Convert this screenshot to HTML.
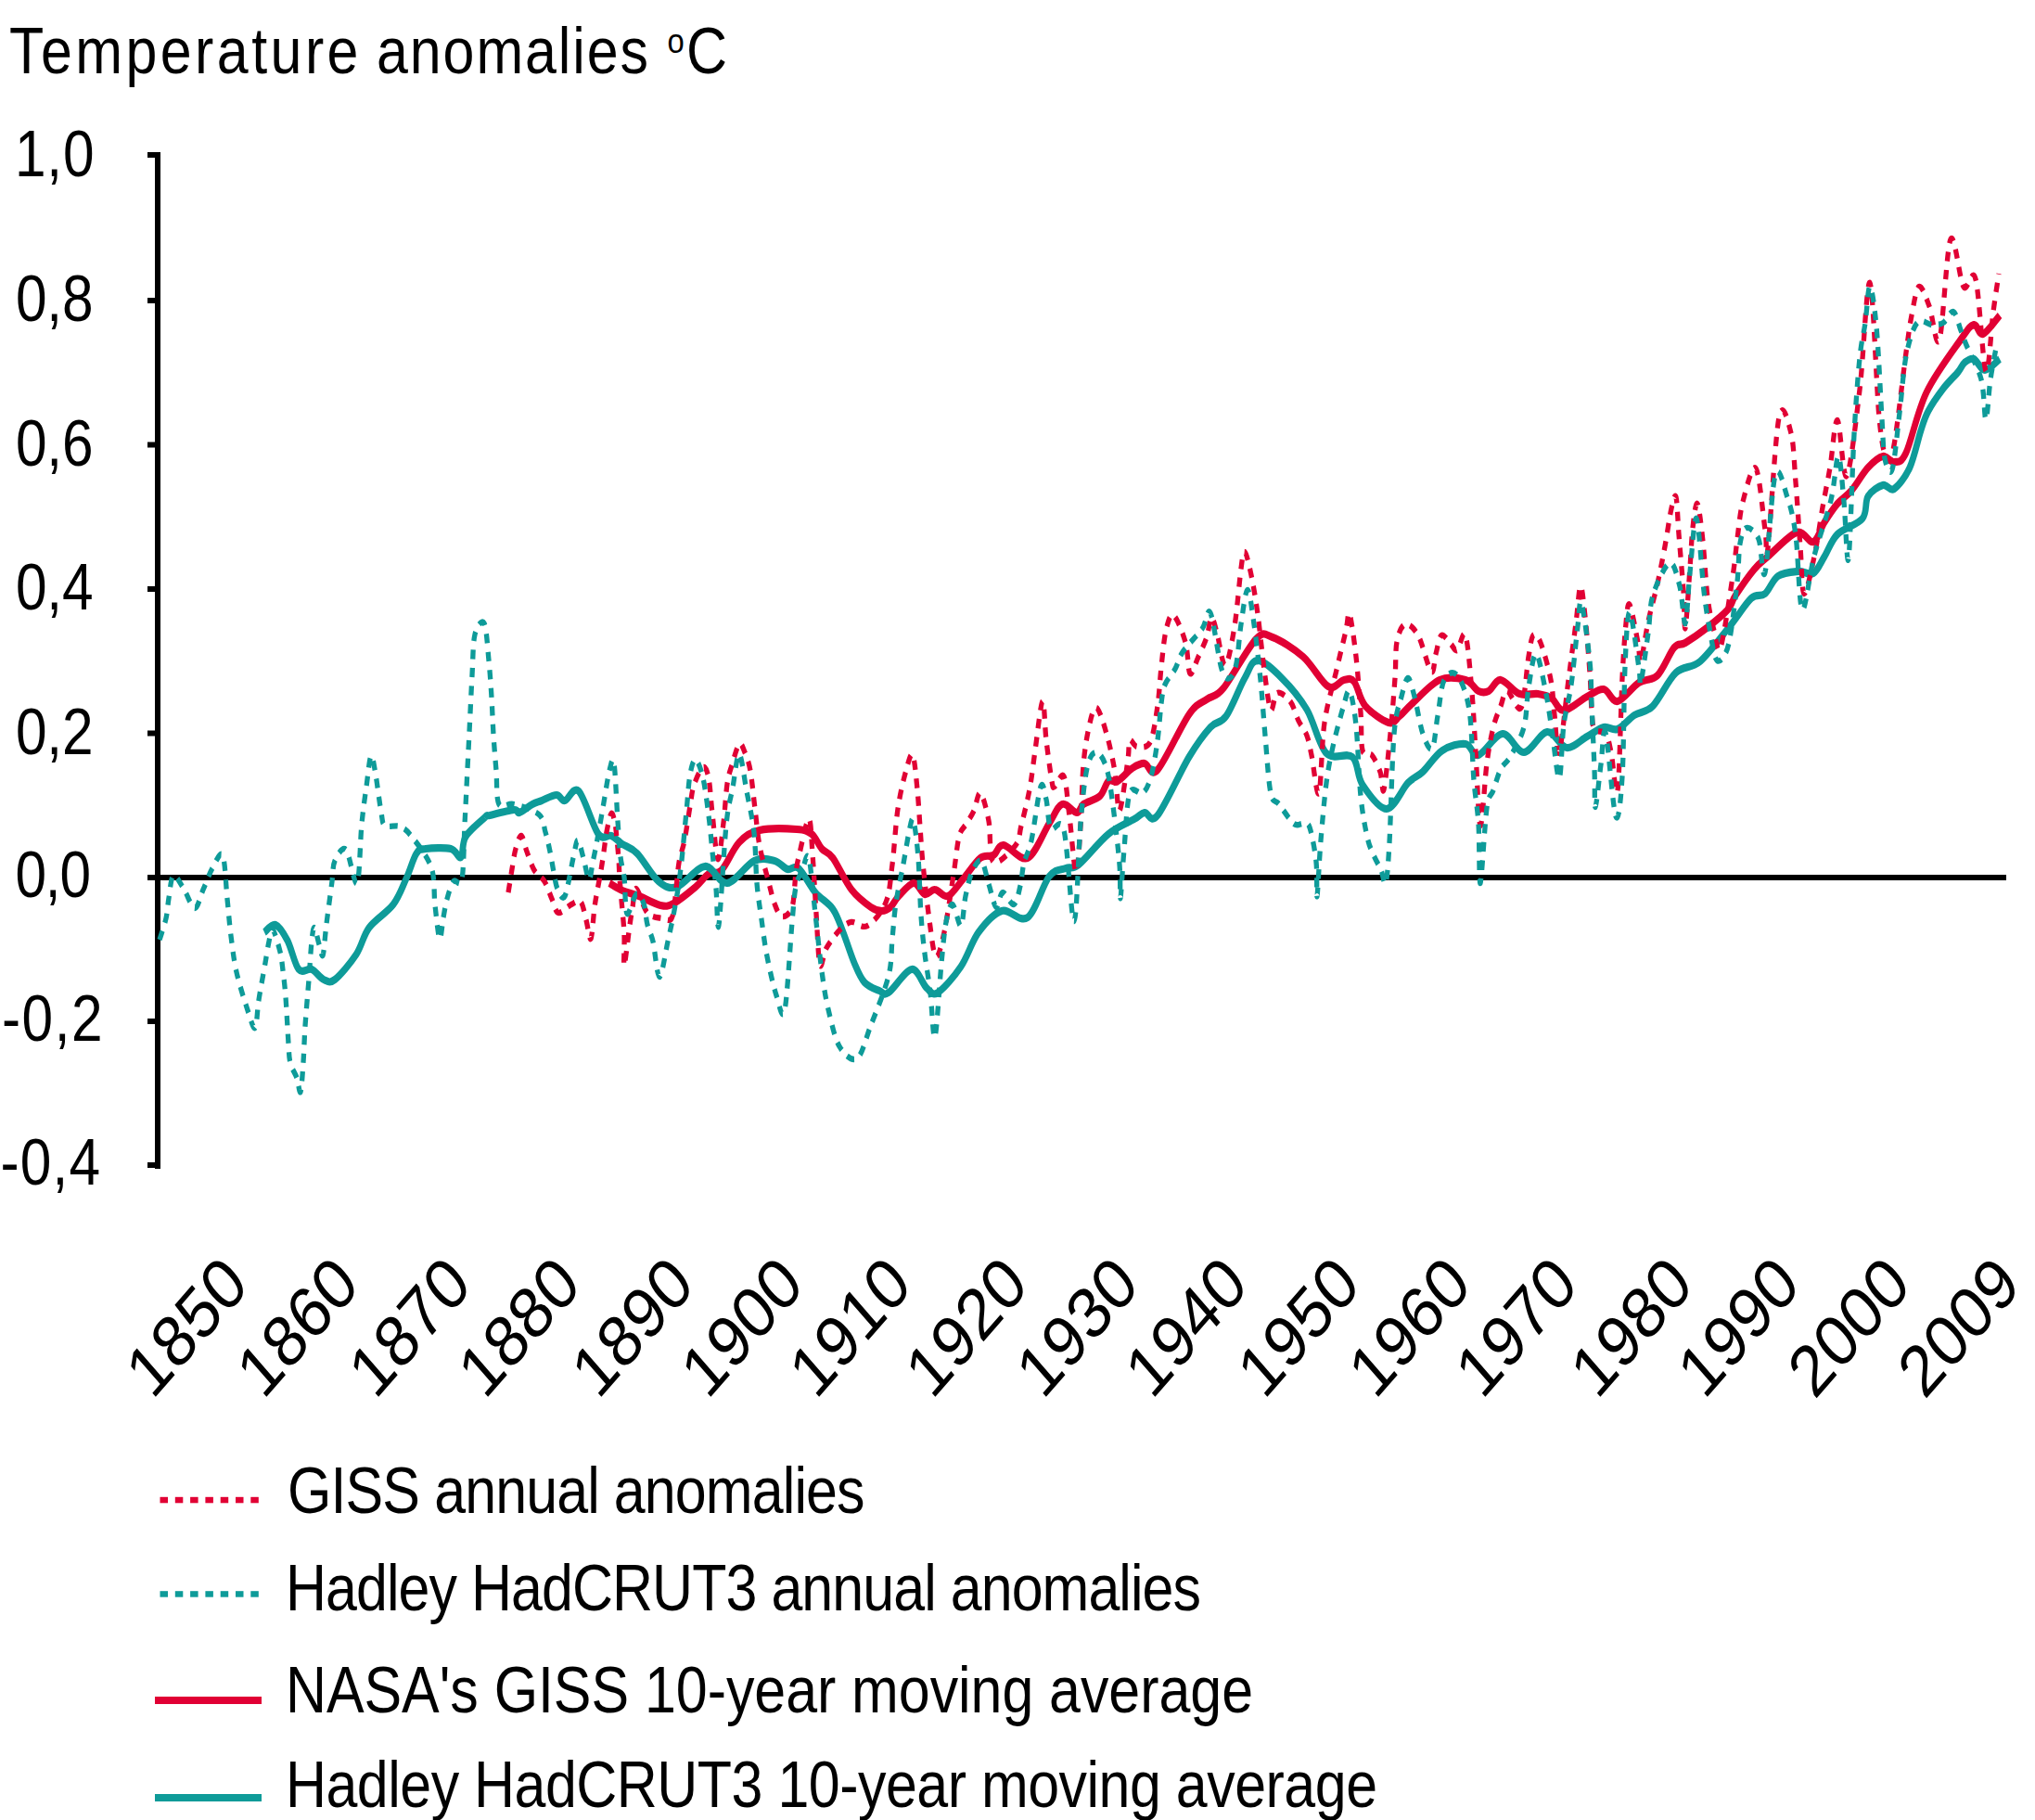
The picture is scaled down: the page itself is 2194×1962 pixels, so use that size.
<!DOCTYPE html><html><head><meta charset="utf-8"><style>html,body{margin:0;padding:0;background:#fff;overflow:hidden}svg{display:block}text{font-family:"Liberation Sans", sans-serif;fill:#000}</style></head><body>
<svg width="2194" height="1962" viewBox="0 0 2194 1962">
<rect width="2194" height="1962" fill="#fff"/>
<g transform="translate(10.00 79.00) scale(0.87 1)"><text x="0" y="0" font-size="70" textLength="432.76" lengthAdjust="spacing">Temperature</text></g>
<g transform="translate(406.00 79.00) scale(0.87 1)"><text x="0" y="0" font-size="70" textLength="336.78" lengthAdjust="spacing">anomalies</text></g>
<g transform="translate(740.00 79.00) scale(0.87 1)"><text x="0" y="0" font-size="70" textLength="28.74" lengthAdjust="spacing">C</text></g>
<g transform="translate(719.5 56.5) scale(0.87 1)"><text x="0" y="0" font-size="37" textLength="21" lengthAdjust="spacingAndGlyphs">o</text></g>
<g transform="translate(16.00 190.00) scale(0.85 1)"><text x="0" y="0" font-size="71" textLength="100.59" lengthAdjust="spacing">1,0</text></g>
<g transform="translate(17.00 346.00) scale(0.85 1)"><text x="0" y="0" font-size="71" textLength="98.24" lengthAdjust="spacing">0,8</text></g>
<g transform="translate(17.00 501.50) scale(0.85 1)"><text x="0" y="0" font-size="71" textLength="98.24" lengthAdjust="spacing">0,6</text></g>
<g transform="translate(17.00 657.00) scale(0.85 1)"><text x="0" y="0" font-size="71" textLength="98.24" lengthAdjust="spacing">0,4</text></g>
<g transform="translate(17.00 812.50) scale(0.85 1)"><text x="0" y="0" font-size="71" textLength="98.24" lengthAdjust="spacing">0,2</text></g>
<g transform="translate(16.50 967.00) scale(0.85 1)"><text x="0" y="0" font-size="71" textLength="95.88" lengthAdjust="spacing">0,0</text></g>
<g transform="translate(2.00 1122.00) scale(0.85 1)"><text x="0" y="0" font-size="71" textLength="127.65" lengthAdjust="spacing">-0,2</text></g>
<g transform="translate(0.50 1277.00) scale(0.85 1)"><text x="0" y="0" font-size="71" textLength="126.47" lengthAdjust="spacing">-0,4</text></g>
<rect x="167" y="164" width="6" height="1096" fill="#000"/>
<rect x="159" y="164.0" width="8" height="6" fill="#000"/>
<rect x="159" y="321.0" width="8" height="6" fill="#000"/>
<rect x="159" y="476.5" width="8" height="6" fill="#000"/>
<rect x="159" y="632.0" width="8" height="6" fill="#000"/>
<rect x="159" y="787.5" width="8" height="6" fill="#000"/>
<rect x="159" y="943.0" width="8" height="6" fill="#000"/>
<rect x="159" y="1098.0" width="8" height="6" fill="#000"/>
<rect x="159" y="1253.0" width="8" height="6" fill="#000"/>
<rect x="159" y="943" width="2004" height="6" fill="#000"/>
<g transform="scale(1 1.2)">
<path d="M657.0,793.3 C659.3,794.4 665.7,798.1 671.0,800.0 C676.3,801.9 682.2,802.8 689.0,805.0 C695.8,807.2 705.8,812.2 712.0,813.3 C718.2,814.4 719.7,814.4 726.0,811.7 C732.3,808.9 743.7,801.1 750.0,796.7 C756.3,792.2 759.3,787.5 764.0,785.0 C768.7,782.5 772.5,786.4 778.0,781.7 C783.5,776.9 790.2,762.6 797.0,756.7 C803.8,750.7 808.7,747.8 819.0,745.8 C829.3,743.9 849.7,744.4 859.0,745.0 C868.3,745.6 870.5,746.3 875.0,749.2 C879.5,752.1 882.2,758.9 886.0,762.5 C889.8,766.1 892.7,764.7 898.0,770.8 C903.3,776.9 911.2,791.8 918.0,799.2 C924.8,806.5 933.5,811.8 939.0,815.0 C944.5,818.2 947.5,818.3 951.0,818.3 C954.5,818.3 957.0,817.2 960.0,815.0 C963.0,812.8 964.8,808.6 969.0,805.0 C973.2,801.4 980.3,793.6 985.0,793.3 C989.7,793.1 993.2,802.4 997.0,803.3 C1000.8,804.3 1003.8,798.9 1008.0,799.2 C1012.2,799.4 1017.0,806.5 1022.0,805.0 C1027.0,803.5 1032.2,795.7 1038.0,790.0 C1043.8,784.3 1051.5,774.4 1057.0,770.8 C1062.5,767.2 1066.8,770.3 1071.0,768.3 C1075.2,766.4 1075.8,758.8 1082.0,759.2 C1088.2,759.6 1099.8,774.0 1108.0,770.8 C1116.2,767.6 1124.8,748.1 1131.0,740.0 C1137.2,731.9 1140.0,724.2 1145.0,722.5 C1150.0,720.8 1157.2,730.0 1161.0,730.0 C1164.8,730.0 1163.8,725.0 1168.0,722.5 C1172.2,720.0 1181.5,718.5 1186.0,715.0 C1190.5,711.5 1191.8,703.9 1195.0,701.7 C1198.2,699.4 1200.7,703.6 1205.0,701.7 C1209.3,699.7 1216.2,692.6 1221.0,690.0 C1225.8,687.4 1229.5,685.6 1234.0,685.8 C1238.5,686.1 1240.0,699.0 1248.0,691.7 C1256.0,684.3 1273.2,652.2 1282.0,641.7 C1290.8,631.1 1294.8,632.2 1301.0,628.3 C1307.2,624.4 1310.2,627.4 1319.0,618.3 C1327.8,609.3 1345.2,581.8 1354.0,574.2 C1362.8,566.5 1363.5,569.9 1372.0,572.5 C1380.5,575.1 1395.0,582.6 1405.0,590.0 C1415.0,597.4 1424.7,613.2 1432.0,616.7 C1439.3,620.1 1444.3,611.5 1449.0,610.8 C1453.7,610.1 1456.2,608.6 1460.0,612.5 C1463.8,616.4 1465.8,628.1 1472.0,634.2 C1478.2,640.3 1490.8,647.6 1497.0,649.2 C1503.2,650.7 1504.8,646.1 1509.0,643.3 C1513.2,640.6 1514.8,637.9 1522.0,632.5 C1529.2,627.1 1542.3,614.4 1552.0,610.8 C1561.7,607.2 1573.0,609.2 1580.0,610.8 C1587.0,612.5 1589.8,619.2 1594.0,620.8 C1598.2,622.5 1601.0,622.5 1605.0,620.8 C1609.0,619.2 1612.5,610.4 1618.0,610.8 C1623.5,611.2 1631.3,621.2 1638.0,623.3 C1644.7,625.4 1652.2,622.6 1658.0,623.3 C1663.8,624.0 1668.3,625.0 1673.0,627.5 C1677.7,630.0 1679.7,638.6 1686.0,638.3 C1692.3,638.1 1703.8,629.0 1711.0,625.8 C1718.2,622.6 1723.5,618.5 1729.0,619.2 C1734.5,619.9 1737.7,631.0 1744.0,630.0 C1750.3,629.0 1759.8,617.2 1767.0,613.3 C1774.2,609.4 1780.7,611.9 1787.0,606.7 C1793.3,601.4 1800.0,586.5 1805.0,581.7 C1810.0,576.8 1811.2,580.4 1817.0,577.5 C1822.8,574.6 1832.3,569.2 1840.0,564.2 C1847.7,559.2 1857.8,552.4 1863.0,547.5 C1868.2,542.6 1866.3,541.0 1871.0,535.0 C1875.7,529.0 1885.2,517.5 1891.0,511.7 C1896.8,505.8 1898.3,505.6 1906.0,500.0 C1913.7,494.4 1928.8,480.6 1937.0,478.3 C1945.2,476.1 1950.0,488.2 1955.0,486.7 C1960.0,485.1 1962.7,474.9 1967.0,469.2 C1971.3,463.5 1976.2,457.2 1981.0,452.5 C1985.8,447.8 1990.5,446.3 1996.0,440.8 C2001.5,435.4 2008.3,425.1 2014.0,420.0 C2019.7,414.9 2025.3,410.8 2030.0,410.0 C2034.7,409.2 2037.8,415.6 2042.0,415.0 C2046.2,414.4 2049.2,417.1 2055.0,406.7 C2060.8,396.2 2067.2,369.4 2077.0,352.5 C2086.8,335.6 2105.5,315.1 2114.0,305.0 C2122.5,294.9 2124.0,292.5 2128.0,291.7 C2132.0,290.8 2133.3,301.4 2138.0,300.0 C2142.7,298.6 2153.0,286.1 2156.0,283.3" fill="none" stroke="#E10034" stroke-width="6.8" stroke-linejoin="round"/>
<path d="M285.0,837.5 C287.0,836.4 292.8,829.6 297.0,830.8 C301.2,832.1 305.8,838.3 310.0,845.0 C314.2,851.7 317.7,866.5 322.0,870.8 C326.3,875.1 331.5,869.3 336.0,870.8 C340.5,872.4 344.8,878.5 349.0,880.0 C353.2,881.5 355.2,883.8 361.0,880.0 C366.8,876.2 377.8,865.3 384.0,857.5 C390.2,849.7 391.3,840.8 398.0,833.3 C404.7,825.8 417.3,819.9 424.0,812.5 C430.7,805.1 433.8,796.8 438.0,789.2 C442.2,781.5 445.5,771.1 449.0,766.7 C452.5,762.2 452.8,763.2 459.0,762.5 C465.2,761.8 479.7,761.2 486.0,762.5 C492.3,763.8 494.3,771.8 497.0,770.0 C499.7,768.2 497.7,757.6 502.0,751.7 C506.3,745.7 518.7,737.4 523.0,734.2 C527.3,731.0 522.8,733.6 528.0,732.5 C533.2,731.4 548.7,727.9 554.0,727.5 C559.3,727.1 556.7,730.8 560.0,730.0 C563.3,729.2 570.0,724.3 574.0,722.5 C578.0,720.7 579.7,720.6 584.0,719.2 C588.3,717.8 595.8,714.2 600.0,714.2 C604.2,714.2 605.0,719.7 609.0,719.2 C613.0,718.6 618.0,705.8 624.0,710.8 C630.0,715.8 639.2,742.5 645.0,749.2 C650.8,755.8 654.7,749.3 659.0,750.8 C663.3,752.4 666.3,755.7 671.0,758.3 C675.7,761.0 680.5,761.1 687.0,766.7 C693.5,772.2 702.8,786.7 710.0,791.7 C717.2,796.7 721.7,798.9 730.0,796.7 C738.3,794.4 751.0,778.9 760.0,778.3 C769.0,777.8 775.2,794.2 784.0,793.3 C792.8,792.5 804.5,776.7 813.0,773.3 C821.5,770.0 829.0,772.1 835.0,773.3 C841.0,774.6 844.7,779.7 849.0,780.8 C853.3,781.9 856.0,776.5 861.0,780.0 C866.0,783.5 872.8,795.6 879.0,801.7 C885.2,807.8 893.0,810.7 898.0,816.7 C903.0,822.6 905.2,829.4 909.0,837.5 C912.8,845.6 917.2,857.5 921.0,865.0 C924.8,872.5 927.5,878.3 932.0,882.5 C936.5,886.7 943.7,888.5 948.0,890.0 C952.3,891.5 952.2,894.9 958.0,891.7 C963.8,888.5 976.2,871.5 983.0,870.8 C989.8,870.1 994.3,884.0 999.0,887.5 C1003.7,891.0 1004.8,894.9 1011.0,891.7 C1017.2,888.5 1028.7,877.4 1036.0,868.3 C1043.3,859.3 1047.7,845.8 1055.0,837.5 C1062.3,829.2 1071.2,820.6 1080.0,818.3 C1088.8,816.1 1099.5,829.3 1108.0,824.2 C1116.5,819.0 1124.2,794.9 1131.0,787.5 C1137.8,780.1 1143.7,781.8 1149.0,780.0 C1154.3,778.2 1155.3,781.8 1163.0,776.7 C1170.7,771.5 1185.0,756.0 1195.0,749.2 C1205.0,742.4 1216.5,739.0 1223.0,735.8 C1229.5,732.6 1229.8,730.6 1234.0,730.0 C1238.2,729.4 1240.0,740.8 1248.0,732.5 C1256.0,724.2 1272.5,693.2 1282.0,680.0 C1291.5,666.8 1298.3,659.4 1305.0,653.3 C1311.7,647.2 1315.8,650.7 1322.0,643.3 C1328.2,636.0 1336.3,617.5 1342.0,609.2 C1347.7,600.8 1349.3,593.3 1356.0,593.3 C1362.7,593.3 1373.2,601.8 1382.0,609.2 C1390.8,616.5 1401.0,626.2 1409.0,637.5 C1417.0,648.8 1421.8,669.6 1430.0,676.7 C1438.2,683.8 1451.5,675.3 1458.0,680.0 C1464.5,684.7 1462.8,697.2 1469.0,705.0 C1475.2,712.8 1486.8,726.9 1495.0,726.7 C1503.2,726.4 1511.5,708.9 1518.0,703.3 C1524.5,697.8 1527.8,698.2 1534.0,693.3 C1540.2,688.5 1547.3,678.3 1555.0,674.2 C1562.7,670.0 1573.5,667.6 1580.0,668.3 C1586.5,669.0 1587.3,679.9 1594.0,678.3 C1600.7,676.8 1611.8,659.6 1620.0,659.2 C1628.2,658.8 1635.0,676.1 1643.0,675.8 C1651.0,675.6 1660.3,658.2 1668.0,657.5 C1675.7,656.8 1681.8,671.0 1689.0,671.7 C1696.2,672.4 1704.3,664.7 1711.0,661.7 C1717.7,658.6 1723.5,654.4 1729.0,653.3 C1734.5,652.2 1738.5,656.8 1744.0,655.0 C1749.5,653.2 1755.7,646.0 1762.0,642.5 C1768.3,639.0 1774.5,640.6 1782.0,634.2 C1789.5,627.8 1798.5,610.8 1807.0,604.2 C1815.5,597.5 1823.3,601.1 1833.0,594.2 C1842.7,587.2 1855.8,571.9 1865.0,562.5 C1874.2,553.1 1881.7,542.4 1888.0,537.5 C1894.3,532.6 1898.2,536.7 1903.0,533.3 C1907.8,530.0 1911.0,520.8 1917.0,517.5 C1923.0,514.2 1932.7,513.8 1939.0,513.3 C1945.3,512.9 1950.3,517.2 1955.0,515.0 C1959.7,512.8 1962.7,505.8 1967.0,500.0 C1971.3,494.2 1974.2,485.7 1981.0,480.0 C1987.8,474.3 2002.5,471.5 2008.0,465.8 C2013.5,460.1 2010.3,450.8 2014.0,445.8 C2017.7,440.8 2025.3,436.9 2030.0,435.8 C2034.7,434.7 2037.2,441.8 2042.0,439.2 C2046.8,436.5 2054.2,428.8 2059.0,420.0 C2063.8,411.2 2067.7,395.1 2071.0,386.7 C2074.3,378.2 2075.0,375.4 2079.0,369.2 C2083.0,362.9 2089.7,355.0 2095.0,349.2 C2100.3,343.3 2107.2,338.1 2111.0,334.2 C2114.8,330.3 2115.2,327.8 2118.0,325.8 C2120.8,323.9 2124.3,321.4 2128.0,322.5 C2131.7,323.6 2135.3,332.5 2140.0,332.5 C2144.7,332.5 2153.3,324.2 2156.0,322.5" fill="none" stroke="#0E9B99" stroke-width="6.8" stroke-linejoin="round"/>
<path d="M548.0,801.7 C548.7,798.2 550.7,787.4 552.0,780.8 C553.3,774.3 554.3,767.5 556.0,762.5 C557.7,757.5 560.0,750.4 562.0,750.8 C564.0,751.2 565.7,759.9 568.0,765.0 C570.3,770.1 572.8,777.2 576.0,781.7 C579.2,786.1 583.8,787.4 587.0,791.7 C590.2,796.0 592.5,802.8 595.0,807.5 C597.5,812.2 598.5,819.2 602.0,820.0 C605.5,820.8 612.0,814.2 616.0,812.5 C620.0,810.8 623.3,807.6 626.0,810.0 C628.7,812.4 630.2,821.1 632.0,826.7 C633.8,832.2 635.5,845.3 637.0,843.3 C638.5,841.4 639.8,822.2 641.0,815.0 C642.2,807.8 642.8,805.6 644.0,800.0 C645.2,794.4 646.8,787.5 648.0,781.7 C649.2,775.8 650.0,770.7 651.0,765.0 C652.0,759.3 652.7,753.2 654.0,747.5 C655.3,741.8 657.5,732.2 659.0,730.8 C660.5,729.4 662.0,735.4 663.0,739.2 C664.0,742.9 664.3,747.9 665.0,753.3 C665.7,758.8 666.5,765.8 667.0,771.7 C667.5,777.5 667.5,782.2 668.0,788.3 C668.5,794.4 669.2,799.9 670.0,808.3 C670.8,816.8 672.5,829.3 673.0,839.2 C673.5,849.0 672.0,868.9 673.0,867.5 C674.0,866.1 677.5,839.6 679.0,830.8 C680.5,822.1 680.8,820.4 682.0,815.0 C683.2,809.6 683.3,797.5 686.0,798.3 C688.7,799.2 693.3,815.6 698.0,820.0 C702.7,824.4 709.7,824.2 714.0,825.0 C718.3,825.8 721.7,828.1 724.0,825.0 C726.3,821.9 726.7,815.0 728.0,806.7 C729.3,798.3 730.3,783.6 732.0,775.0 C733.7,766.4 736.0,763.5 738.0,755.0 C740.0,746.5 742.3,732.4 744.0,724.2 C745.7,716.0 745.7,711.7 748.0,705.8 C750.3,700.0 755.3,690.3 758.0,689.2 C760.7,688.1 762.3,692.2 764.0,699.2 C765.7,706.1 766.3,718.8 768.0,730.8 C769.7,742.9 772.0,770.3 774.0,771.7 C776.0,773.1 778.3,750.4 780.0,739.2 C781.7,727.9 782.5,712.8 784.0,704.2 C785.5,695.6 786.8,693.5 789.0,687.5 C791.2,681.5 794.7,670.3 797.0,668.3 C799.3,666.4 801.0,671.8 803.0,675.8 C805.0,679.9 807.2,684.0 809.0,692.5 C810.8,701.0 812.3,715.4 814.0,726.7 C815.7,737.9 816.5,748.9 819.0,760.0 C821.5,771.1 826.3,784.7 829.0,793.3 C831.7,801.9 832.7,806.7 835.0,811.7 C837.3,816.7 839.8,822.8 843.0,823.3 C846.2,823.9 851.5,821.5 854.0,815.0 C856.5,808.5 856.7,792.2 858.0,784.2 C859.3,776.1 859.7,774.7 862.0,766.7 C864.3,758.6 869.7,735.8 872.0,735.8 C874.3,735.8 874.7,752.5 876.0,766.7 C877.3,780.8 878.7,804.2 880.0,820.8 C881.3,837.5 882.2,861.5 884.0,866.7 C885.8,871.8 887.5,856.8 891.0,851.7 C894.5,846.5 900.5,839.7 905.0,835.8 C909.5,831.9 913.0,829.0 918.0,828.3 C923.0,827.6 928.8,834.6 935.0,831.7 C941.2,828.8 950.5,820.0 955.0,810.8 C959.5,801.7 959.8,790.7 962.0,776.7 C964.2,762.6 965.5,740.8 968.0,726.7 C970.5,712.5 974.3,699.7 977.0,691.7 C979.7,683.6 982.0,675.4 984.0,678.3 C986.0,681.2 987.7,698.3 989.0,709.2 C990.3,720.0 991.0,732.2 992.0,743.3 C993.0,754.4 993.3,761.9 995.0,775.8 C996.7,789.7 999.7,812.8 1002.0,826.7 C1004.3,840.6 1006.3,857.4 1009.0,859.2 C1011.7,861.0 1014.8,849.7 1018.0,837.5 C1021.2,825.3 1025.3,800.1 1028.0,785.8 C1030.7,771.5 1031.7,759.3 1034.0,751.7 C1036.3,744.0 1039.3,743.9 1042.0,740.0 C1044.7,736.1 1047.5,732.9 1050.0,728.3 C1052.5,723.8 1054.3,711.0 1057.0,712.5 C1059.7,714.0 1063.7,727.2 1066.0,737.5 C1068.3,747.8 1066.2,770.6 1071.0,774.2 C1075.8,777.8 1090.0,764.6 1095.0,759.2 C1100.0,753.8 1098.5,750.0 1101.0,741.7 C1103.5,733.3 1107.5,720.4 1110.0,709.2 C1112.5,697.9 1113.7,687.4 1116.0,674.2 C1118.3,661.0 1122.0,631.5 1124.0,630.0 C1126.0,628.5 1126.3,653.1 1128.0,665.0 C1129.7,676.9 1132.5,694.7 1134.0,701.7 C1135.5,708.6 1134.8,707.4 1137.0,706.7 C1139.2,706.0 1144.3,693.1 1147.0,697.5 C1149.7,701.9 1150.8,719.0 1153.0,733.3 C1155.2,747.6 1158.0,781.9 1160.0,783.3 C1162.0,784.7 1163.7,757.6 1165.0,741.7 C1166.3,725.7 1166.5,702.2 1168.0,687.5 C1169.5,672.8 1171.7,661.9 1174.0,653.3 C1176.3,644.7 1178.8,634.9 1182.0,635.8 C1185.2,636.8 1189.7,649.6 1193.0,659.2 C1196.3,668.8 1199.7,681.8 1202.0,693.3 C1204.3,704.9 1204.7,730.1 1207.0,728.3 C1209.3,726.5 1214.2,693.1 1216.0,682.5 C1217.8,671.9 1216.3,666.9 1218.0,665.0 C1219.7,663.1 1222.3,670.6 1226.0,670.8 C1229.7,671.1 1236.3,672.8 1240.0,666.7 C1243.7,660.6 1246.0,645.4 1248.0,634.2 C1250.0,622.9 1250.5,610.4 1252.0,599.2 C1253.5,587.9 1254.8,574.4 1257.0,566.7 C1259.2,558.9 1261.5,550.8 1265.0,552.5 C1268.5,554.2 1275.0,567.9 1278.0,576.7 C1281.0,585.4 1280.7,602.8 1283.0,605.0 C1285.3,607.2 1289.0,595.4 1292.0,590.0 C1295.0,584.6 1298.7,578.3 1301.0,572.5 C1303.3,566.7 1304.2,555.7 1306.0,555.0 C1307.8,554.3 1309.5,561.2 1312.0,568.3 C1314.5,575.4 1317.8,598.5 1321.0,597.5 C1324.2,596.5 1328.2,576.9 1331.0,562.5 C1333.8,548.1 1336.2,521.9 1338.0,510.8 C1339.8,499.7 1340.2,494.9 1342.0,495.8 C1343.8,496.8 1346.7,507.4 1349.0,516.7 C1351.3,526.0 1353.7,537.5 1356.0,551.7 C1358.3,565.8 1360.7,587.4 1363.0,601.7 C1365.3,616.0 1367.7,634.0 1370.0,637.5 C1372.3,641.0 1373.5,623.8 1377.0,622.5 C1380.5,621.2 1387.2,625.8 1391.0,630.0 C1394.8,634.2 1397.0,642.4 1400.0,647.5 C1403.0,652.6 1406.7,655.7 1409.0,660.8 C1411.3,666.0 1411.8,669.7 1414.0,678.3 C1416.2,686.9 1419.7,717.4 1422.0,712.5 C1424.3,707.6 1424.8,667.6 1428.0,649.2 C1431.2,630.7 1437.2,615.4 1441.0,601.7 C1444.8,587.9 1448.7,575.0 1451.0,566.7 C1453.3,558.3 1453.2,547.8 1455.0,551.7 C1456.8,555.6 1460.0,575.3 1462.0,590.0 C1464.0,604.7 1465.8,626.0 1467.0,640.0 C1468.2,654.0 1467.0,667.8 1469.0,674.2 C1471.0,680.6 1475.8,675.1 1479.0,678.3 C1482.2,681.5 1485.8,688.2 1488.0,693.3 C1490.2,698.5 1490.2,714.9 1492.0,709.2 C1493.8,703.5 1497.0,675.8 1499.0,659.2 C1501.0,642.5 1502.8,622.9 1504.0,609.2 C1505.2,595.4 1504.2,584.7 1506.0,576.7 C1507.8,568.6 1511.2,561.8 1515.0,560.8 C1518.8,559.9 1524.3,563.8 1529.0,570.8 C1533.7,577.9 1539.8,600.6 1543.0,603.3 C1546.2,606.1 1546.2,592.9 1548.0,587.5 C1549.8,582.1 1551.3,572.4 1554.0,570.8 C1556.7,569.3 1561.2,576.1 1564.0,578.3 C1566.8,580.6 1568.3,585.4 1571.0,584.2 C1573.7,582.9 1577.3,564.4 1580.0,570.8 C1582.7,577.2 1585.2,605.0 1587.0,622.5 C1588.8,640.0 1589.5,656.0 1591.0,675.8 C1592.5,695.7 1594.0,740.0 1596.0,741.7 C1598.0,743.3 1600.7,700.6 1603.0,685.8 C1605.3,671.1 1607.5,661.9 1610.0,653.3 C1612.5,644.7 1615.5,639.6 1618.0,634.2 C1620.5,628.8 1621.3,620.6 1625.0,620.8 C1628.7,621.1 1636.2,641.0 1640.0,635.8 C1643.8,630.7 1645.8,600.8 1648.0,590.0 C1650.2,579.2 1650.8,572.9 1653.0,570.8 C1655.2,568.8 1657.8,570.8 1661.0,577.5 C1664.2,584.2 1669.5,600.0 1672.0,610.8 C1674.5,621.7 1674.5,631.7 1676.0,642.5 C1677.5,653.3 1678.5,681.1 1681.0,675.8 C1683.5,670.6 1688.0,630.1 1691.0,610.8 C1694.0,591.5 1696.8,574.0 1699.0,560.0 C1701.2,546.0 1702.3,527.6 1704.0,526.7 C1705.7,525.7 1707.3,541.3 1709.0,554.2 C1710.7,567.1 1712.8,590.1 1714.0,604.2 C1715.2,618.2 1715.2,629.9 1716.0,638.3 C1716.8,646.8 1716.5,651.5 1719.0,655.0 C1721.5,658.5 1728.0,655.7 1731.0,659.2 C1734.0,662.6 1734.8,667.4 1737.0,675.8 C1739.2,684.3 1742.0,721.1 1744.0,710.0 C1746.0,698.9 1747.5,634.2 1749.0,609.2 C1750.5,584.2 1751.7,571.0 1753.0,560.0 C1754.3,549.0 1754.8,540.4 1757.0,543.3 C1759.2,546.2 1764.0,569.0 1766.0,577.5 C1768.0,586.0 1767.2,597.4 1769.0,594.2 C1770.8,591.0 1774.0,570.0 1777.0,558.3 C1780.0,546.7 1784.0,535.4 1787.0,524.2 C1790.0,512.9 1792.5,502.1 1795.0,490.8 C1797.5,479.6 1800.0,464.0 1802.0,456.7 C1804.0,449.3 1805.7,442.8 1807.0,446.7 C1808.3,450.6 1808.7,466.0 1810.0,480.0 C1811.3,494.0 1813.8,516.8 1815.0,530.8 C1816.2,544.9 1815.8,567.6 1817.0,564.2 C1818.2,560.7 1820.7,525.0 1822.0,510.0 C1823.3,495.0 1823.7,483.8 1825.0,474.2 C1826.3,464.6 1828.2,450.4 1830.0,452.5 C1831.8,454.6 1834.2,472.6 1836.0,486.7 C1837.8,500.7 1839.0,523.3 1841.0,536.7 C1843.0,550.0 1845.7,559.2 1848.0,566.7 C1850.3,574.2 1851.7,589.7 1855.0,581.7 C1858.3,573.6 1865.0,534.6 1868.0,518.3 C1871.0,502.1 1871.2,495.4 1873.0,484.2 C1874.8,472.9 1875.7,461.4 1879.0,450.8 C1882.3,440.3 1889.0,416.7 1893.0,420.8 C1897.0,425.0 1900.8,463.9 1903.0,475.8 C1905.2,487.8 1903.5,509.3 1906.0,492.5 C1908.5,475.7 1913.8,392.2 1918.0,375.0 C1922.2,357.8 1928.0,379.4 1931.0,389.2 C1934.0,398.9 1934.3,416.3 1936.0,433.3 C1937.7,450.4 1939.5,475.0 1941.0,491.7 C1942.5,508.3 1942.5,531.9 1945.0,533.3 C1947.5,534.7 1952.7,512.9 1956.0,500.0 C1959.3,487.1 1962.2,469.2 1965.0,455.8 C1967.8,442.5 1970.3,433.1 1973.0,420.0 C1975.7,406.9 1978.0,376.2 1981.0,377.5 C1984.0,378.8 1987.0,432.1 1991.0,427.5 C1995.0,422.9 2000.8,378.9 2005.0,350.0 C2009.2,321.1 2012.5,250.0 2016.0,254.2 C2019.5,258.3 2023.0,348.8 2026.0,375.0 C2029.0,401.2 2031.3,407.5 2034.0,411.7 C2036.7,415.8 2038.5,415.8 2042.0,400.0 C2045.5,384.2 2051.8,336.1 2055.0,316.7 C2058.2,297.2 2058.7,293.2 2061.0,283.3 C2063.3,273.5 2065.8,258.9 2069.0,257.5 C2072.2,256.1 2076.3,267.1 2080.0,275.0 C2083.7,282.9 2087.2,315.0 2091.0,305.0 C2094.8,295.0 2098.7,222.9 2103.0,215.0 C2107.3,207.1 2112.5,251.5 2117.0,257.5 C2121.5,263.5 2126.0,238.2 2130.0,250.8 C2134.0,263.5 2137.8,328.5 2141.0,333.3 C2144.2,338.2 2146.7,294.6 2149.0,280.0 C2151.3,265.4 2154.0,251.5 2155.0,245.8" fill="none" stroke="#E10034" stroke-width="5.3" stroke-dasharray="8.5 7.8" stroke-linejoin="round"/>
<path d="M172.0,844.2 C173.2,841.0 177.3,831.2 179.0,825.0 C180.7,818.8 180.7,813.1 182.0,806.7 C183.3,800.3 184.3,788.1 187.0,786.7 C189.7,785.3 194.2,793.5 198.0,798.3 C201.8,803.2 206.5,815.7 210.0,815.8 C213.5,816.0 215.8,805.1 219.0,799.2 C222.2,793.2 225.5,785.1 229.0,780.0 C232.5,774.9 237.3,763.8 240.0,768.3 C242.7,772.9 243.5,795.4 245.0,807.5 C246.5,819.6 247.3,829.9 249.0,840.8 C250.7,851.8 252.0,862.2 255.0,873.3 C258.0,884.4 263.7,899.2 267.0,907.5 C270.3,915.8 273.0,924.9 275.0,923.3 C277.0,921.8 277.2,908.1 279.0,898.3 C280.8,888.6 284.2,873.8 286.0,865.0 C287.8,856.2 288.7,850.8 290.0,845.8 C291.3,840.8 292.0,833.5 294.0,835.0 C296.0,836.5 300.2,848.9 302.0,855.0 C303.8,861.1 304.0,864.9 305.0,871.7 C306.0,878.5 307.0,884.9 308.0,895.8 C309.0,906.8 310.2,927.6 311.0,937.5 C311.8,947.4 311.5,949.9 313.0,955.0 C314.5,960.1 318.2,964.0 320.0,968.3 C321.8,972.6 322.8,983.2 324.0,980.8 C325.2,978.5 326.2,964.0 327.0,954.2 C327.8,944.3 328.0,934.0 329.0,921.7 C330.0,909.3 331.8,892.6 333.0,880.0 C334.2,867.4 335.0,853.6 336.0,845.8 C337.0,838.1 337.7,832.9 339.0,833.3 C340.3,833.8 342.5,844.2 344.0,848.3 C345.5,852.5 346.8,860.1 348.0,858.3 C349.2,856.5 350.2,843.3 351.0,837.5 C351.8,831.7 351.8,831.0 353.0,823.3 C354.2,815.7 356.7,800.0 358.0,791.7 C359.3,783.3 358.5,778.1 361.0,773.3 C363.5,768.6 369.0,760.0 373.0,763.3 C377.0,766.7 382.2,797.2 385.0,793.3 C387.8,789.4 388.3,754.4 390.0,740.0 C391.7,725.6 393.3,716.8 395.0,706.7 C396.7,696.5 398.3,681.0 400.0,679.2 C401.7,677.4 403.2,687.4 405.0,695.8 C406.8,704.3 409.3,722.4 411.0,730.0 C412.7,737.6 411.7,739.6 415.0,741.7 C418.3,743.8 426.2,740.8 431.0,742.5 C435.8,744.2 438.3,745.6 444.0,751.7 C449.7,757.8 460.8,768.9 465.0,779.2 C469.2,789.4 467.5,802.6 469.0,813.3 C470.5,824.0 472.5,841.5 474.0,843.3 C475.5,845.1 476.7,830.1 478.0,824.2 C479.3,818.2 480.2,812.9 482.0,807.5 C483.8,802.1 486.3,794.6 489.0,791.7 C491.7,788.8 496.0,798.5 498.0,790.0 C500.0,781.5 500.2,754.6 501.0,740.8 C501.8,727.1 502.2,721.4 503.0,707.5 C503.8,693.6 505.0,674.3 506.0,657.5 C507.0,640.7 508.0,621.3 509.0,606.7 C510.0,592.1 509.8,577.8 512.0,570.0 C514.2,562.2 519.5,556.1 522.0,560.0 C524.5,563.9 525.7,582.2 527.0,593.3 C528.3,604.4 529.2,615.6 530.0,626.7 C530.8,637.8 531.2,649.0 532.0,660.0 C532.8,671.0 534.0,682.1 535.0,692.5 C536.0,702.9 534.8,717.5 538.0,722.5 C541.2,727.5 546.8,721.0 554.0,722.5 C561.2,724.0 575.3,727.5 581.0,731.7 C586.7,735.8 586.0,741.9 588.0,747.5 C590.0,753.1 591.5,759.0 593.0,765.0 C594.5,771.0 595.7,777.8 597.0,783.3 C598.3,788.9 599.0,794.7 601.0,798.3 C603.0,801.9 606.2,809.6 609.0,805.0 C611.8,800.4 615.7,779.2 618.0,770.8 C620.3,762.5 621.2,755.0 623.0,755.0 C624.8,755.0 627.0,765.0 629.0,770.8 C631.0,776.7 633.3,789.3 635.0,790.0 C636.7,790.7 637.7,780.3 639.0,775.0 C640.3,769.7 641.2,766.5 643.0,758.3 C644.8,750.1 647.7,736.8 650.0,725.8 C652.3,714.9 655.0,699.2 657.0,692.5 C659.0,685.8 660.5,678.3 662.0,685.8 C663.5,693.3 664.8,723.5 666.0,737.5 C667.2,751.5 667.8,761.5 669.0,770.0 C670.2,778.5 671.8,779.9 673.0,788.3 C674.2,796.8 673.8,818.3 676.0,820.8 C678.2,823.3 683.0,804.9 686.0,803.3 C689.0,801.8 692.0,807.1 694.0,811.7 C696.0,816.3 696.3,825.1 698.0,830.8 C699.7,836.5 701.8,838.1 704.0,845.8 C706.2,853.6 708.3,877.5 711.0,877.5 C713.7,877.5 717.2,856.5 720.0,845.8 C722.8,835.1 725.7,824.3 728.0,813.3 C730.3,802.4 732.0,794.0 734.0,780.0 C736.0,766.0 738.3,743.2 740.0,729.2 C741.7,715.1 742.3,703.6 744.0,695.8 C745.7,688.1 747.7,681.9 750.0,682.5 C752.3,683.1 755.7,690.8 758.0,699.2 C760.3,707.5 762.3,721.5 764.0,732.5 C765.7,743.5 766.7,754.0 768.0,765.0 C769.3,776.0 770.8,787.4 772.0,798.3 C773.2,809.3 773.2,840.4 775.0,830.8 C776.8,821.2 780.5,761.4 783.0,740.8 C785.5,720.3 787.7,718.1 790.0,707.5 C792.3,696.9 794.5,676.9 797.0,677.5 C799.5,678.1 802.3,699.0 805.0,710.8 C807.7,722.6 811.2,734.6 813.0,748.3 C814.8,762.1 814.7,780.4 816.0,793.3 C817.3,806.2 819.2,814.9 821.0,825.8 C822.8,836.8 824.3,847.8 827.0,859.2 C829.7,870.6 833.8,886.1 837.0,894.2 C840.2,902.2 843.2,918.5 846.0,907.5 C848.8,896.5 852.0,846.8 854.0,828.3 C856.0,809.9 856.2,804.4 858.0,796.7 C859.8,788.9 862.7,786.0 865.0,781.7 C867.3,777.4 869.7,764.3 872.0,770.8 C874.3,777.4 876.7,803.9 879.0,820.8 C881.3,837.8 883.7,858.2 886.0,872.5 C888.3,886.8 889.8,895.4 893.0,906.7 C896.2,917.9 899.8,932.6 905.0,940.0 C910.2,947.4 918.3,954.0 924.0,950.8 C929.7,947.6 933.3,933.2 939.0,920.8 C944.7,908.5 954.2,889.6 958.0,876.7 C961.8,863.8 960.7,854.3 962.0,843.3 C963.3,832.4 964.0,822.1 966.0,810.8 C968.0,799.6 971.5,787.1 974.0,775.8 C976.5,764.6 979.2,749.7 981.0,743.3 C982.8,736.9 983.5,732.9 985.0,737.5 C986.5,742.1 988.7,756.7 990.0,770.8 C991.3,785.0 991.8,808.2 993.0,822.5 C994.2,836.8 995.3,845.1 997.0,856.7 C998.7,868.2 1001.2,879.2 1003.0,891.7 C1004.8,904.2 1006.0,936.1 1008.0,931.7 C1010.0,927.2 1013.0,882.2 1015.0,865.0 C1017.0,847.8 1018.0,837.1 1020.0,828.3 C1022.0,819.6 1024.3,811.9 1027.0,812.5 C1029.7,813.1 1033.7,832.9 1036.0,831.7 C1038.3,830.4 1039.0,813.1 1041.0,805.0 C1043.0,796.9 1045.2,788.6 1048.0,783.3 C1050.8,778.1 1055.0,771.5 1058.0,773.3 C1061.0,775.1 1063.3,787.2 1066.0,794.2 C1068.7,801.1 1071.5,813.8 1074.0,815.0 C1076.5,816.2 1077.8,802.1 1081.0,801.7 C1084.2,801.3 1089.8,813.5 1093.0,812.5 C1096.2,811.5 1098.2,802.1 1100.0,795.8 C1101.8,789.6 1102.0,781.8 1104.0,775.0 C1106.0,768.2 1109.0,766.4 1112.0,755.0 C1115.0,743.6 1119.3,712.8 1122.0,706.7 C1124.7,700.6 1126.2,712.1 1128.0,718.3 C1129.8,724.6 1129.8,739.6 1133.0,744.2 C1136.2,748.8 1142.8,731.9 1147.0,745.8 C1151.2,759.7 1155.0,828.5 1158.0,827.5 C1161.0,826.5 1162.7,762.9 1165.0,740.0 C1167.3,717.1 1169.2,700.7 1172.0,690.0 C1174.8,679.3 1178.5,675.8 1182.0,675.8 C1185.5,675.8 1190.0,681.9 1193.0,690.0 C1196.0,698.1 1197.7,709.7 1200.0,724.2 C1202.3,738.6 1205.7,762.9 1207.0,776.7 C1208.3,790.4 1207.2,809.0 1208.0,806.7 C1208.8,804.3 1210.3,778.2 1212.0,762.5 C1213.7,746.8 1214.7,720.8 1218.0,712.5 C1221.3,704.2 1228.2,715.0 1232.0,712.5 C1235.8,710.0 1238.3,705.4 1241.0,697.5 C1243.7,689.6 1246.2,676.0 1248.0,665.0 C1249.8,654.0 1250.7,640.0 1252.0,631.7 C1253.3,623.3 1253.5,620.1 1256.0,615.0 C1258.5,609.9 1263.8,605.7 1267.0,600.8 C1270.2,596.0 1270.2,591.8 1275.0,585.8 C1279.8,579.9 1291.0,570.8 1296.0,565.0 C1301.0,559.2 1301.5,544.9 1305.0,550.8 C1308.5,556.8 1313.5,591.1 1317.0,600.8 C1320.5,610.6 1323.3,610.0 1326.0,609.2 C1328.7,608.3 1331.0,603.9 1333.0,595.8 C1335.0,587.8 1336.0,571.8 1338.0,560.8 C1340.0,549.9 1342.7,530.0 1345.0,530.0 C1347.3,530.0 1349.7,547.4 1352.0,560.8 C1354.3,574.3 1357.0,594.2 1359.0,610.8 C1361.0,627.5 1362.2,643.9 1364.0,660.8 C1365.8,677.8 1367.5,702.2 1370.0,712.5 C1372.5,722.8 1374.8,717.9 1379.0,722.5 C1383.2,727.1 1390.7,737.1 1395.0,740.0 C1399.3,742.9 1402.2,739.4 1405.0,740.0 C1407.8,740.6 1409.7,737.6 1412.0,743.3 C1414.3,749.0 1417.7,763.9 1419.0,774.2 C1420.3,784.4 1419.2,808.2 1420.0,805.0 C1420.8,801.8 1422.3,771.9 1424.0,755.0 C1425.7,738.1 1427.8,717.4 1430.0,703.3 C1432.2,689.3 1434.0,682.1 1437.0,670.8 C1440.0,659.6 1445.0,644.2 1448.0,635.8 C1451.0,627.5 1452.7,618.2 1455.0,620.8 C1457.3,623.5 1460.0,636.0 1462.0,651.7 C1464.0,667.4 1465.0,698.3 1467.0,715.0 C1469.0,731.7 1471.7,742.8 1474.0,751.7 C1476.3,760.6 1478.5,763.3 1481.0,768.3 C1483.5,773.3 1486.8,777.5 1489.0,781.7 C1491.2,785.8 1492.5,797.5 1494.0,793.3 C1495.5,789.2 1496.5,779.0 1498.0,756.7 C1499.5,734.3 1500.8,681.0 1503.0,659.2 C1505.2,637.4 1508.5,634.2 1511.0,625.8 C1513.5,617.5 1515.7,609.2 1518.0,609.2 C1520.3,609.2 1522.3,617.5 1525.0,625.8 C1527.7,634.2 1530.8,651.4 1534.0,659.2 C1537.2,666.9 1541.3,675.1 1544.0,672.5 C1546.7,669.9 1547.8,653.6 1550.0,643.3 C1552.2,633.1 1553.5,616.9 1557.0,610.8 C1560.5,604.7 1566.5,602.2 1571.0,606.7 C1575.5,611.1 1581.0,621.8 1584.0,637.5 C1587.0,653.2 1587.3,683.8 1589.0,700.8 C1590.7,717.9 1592.8,724.6 1594.0,740.0 C1595.2,755.4 1594.5,795.7 1596.0,793.3 C1597.5,791.0 1600.7,739.7 1603.0,725.8 C1605.3,711.9 1607.5,715.8 1610.0,710.0 C1612.5,704.2 1615.0,695.8 1618.0,690.8 C1621.0,685.8 1623.8,686.2 1628.0,680.0 C1632.2,673.8 1639.7,663.8 1643.0,653.3 C1646.3,642.9 1645.8,628.5 1648.0,617.5 C1650.2,606.5 1653.0,587.2 1656.0,587.5 C1659.0,587.8 1663.2,607.9 1666.0,619.2 C1668.8,630.4 1670.5,641.7 1673.0,655.0 C1675.5,668.3 1678.8,699.9 1681.0,699.2 C1683.2,698.5 1683.8,664.9 1686.0,650.8 C1688.2,636.8 1691.5,629.7 1694.0,615.0 C1696.5,600.3 1699.2,574.7 1701.0,562.5 C1702.8,550.3 1702.8,536.4 1705.0,541.7 C1707.2,546.9 1712.2,579.2 1714.0,594.2 C1715.8,609.2 1715.2,615.6 1716.0,631.7 C1716.8,647.8 1718.3,675.3 1719.0,690.8 C1719.7,706.4 1718.8,725.7 1720.0,725.0 C1721.2,724.3 1724.2,697.8 1726.0,686.7 C1727.8,675.6 1728.3,650.6 1731.0,658.3 C1733.7,666.1 1739.0,726.8 1742.0,733.3 C1745.0,739.9 1747.3,720.0 1749.0,697.5 C1750.7,675.0 1750.7,622.9 1752.0,598.3 C1753.3,573.8 1754.5,549.7 1757.0,550.0 C1759.5,550.3 1765.0,589.4 1767.0,600.0 C1769.0,610.6 1767.3,618.6 1769.0,613.3 C1770.7,608.1 1774.8,581.4 1777.0,568.3 C1779.2,555.3 1778.2,545.4 1782.0,535.0 C1785.8,524.6 1795.2,507.2 1800.0,505.8 C1804.8,504.4 1808.2,517.6 1811.0,526.7 C1813.8,535.7 1815.2,562.1 1817.0,560.0 C1818.8,557.9 1820.0,529.9 1822.0,514.2 C1824.0,498.5 1826.5,463.1 1829.0,465.8 C1831.5,468.6 1834.7,514.4 1837.0,530.8 C1839.3,547.2 1840.8,554.0 1843.0,564.2 C1845.2,574.3 1847.5,587.4 1850.0,591.7 C1852.5,596.0 1855.5,593.1 1858.0,590.0 C1860.5,586.9 1862.5,584.6 1865.0,573.3 C1867.5,562.1 1871.2,536.7 1873.0,522.5 C1874.8,508.3 1874.3,496.4 1876.0,488.3 C1877.7,480.3 1879.7,474.9 1883.0,474.2 C1886.3,473.5 1892.7,477.5 1896.0,484.2 C1899.3,490.8 1900.0,523.8 1903.0,514.2 C1906.0,504.6 1910.0,437.9 1914.0,426.7 C1918.0,415.4 1923.3,437.6 1927.0,446.7 C1930.7,455.7 1933.3,464.0 1936.0,480.8 C1938.7,497.6 1939.7,544.4 1943.0,547.5 C1946.3,550.6 1950.8,515.6 1956.0,499.2 C1961.2,482.8 1969.7,464.0 1974.0,449.2 C1978.3,434.3 1979.7,409.7 1982.0,410.0 C1984.3,410.3 1986.2,435.6 1988.0,450.8 C1989.8,466.1 1991.2,511.8 1993.0,501.7 C1994.8,491.5 1997.0,420.0 1999.0,390.0 C2001.0,360.0 2003.0,338.3 2005.0,321.7 C2007.0,305.0 2009.2,300.7 2011.0,290.0 C2012.8,279.3 2014.0,256.9 2016.0,257.5 C2018.0,258.1 2020.8,273.5 2023.0,293.3 C2025.2,313.2 2027.5,356.9 2029.0,376.7 C2030.5,396.4 2030.2,404.2 2032.0,411.7 C2033.8,419.2 2037.3,428.5 2040.0,421.7 C2042.7,414.9 2045.5,387.8 2048.0,370.8 C2050.5,353.9 2051.8,333.5 2055.0,320.0 C2058.2,306.5 2062.3,294.7 2067.0,290.0 C2071.7,285.3 2078.3,291.7 2083.0,291.7 C2087.7,291.7 2091.2,291.9 2095.0,290.0 C2098.8,288.1 2102.8,278.9 2106.0,280.0 C2109.2,281.1 2111.7,291.7 2114.0,296.7 C2116.3,301.7 2116.3,302.6 2120.0,310.0 C2123.7,317.4 2132.5,329.7 2136.0,340.8 C2139.5,351.9 2139.3,376.7 2141.0,376.7 C2142.7,376.7 2144.0,352.2 2146.0,340.8 C2148.0,329.4 2151.8,313.8 2153.0,308.3" fill="none" stroke="#0E9B99" stroke-width="5.3" stroke-dasharray="8.5 7.8" stroke-linejoin="round"/>
</g>
<text x="0" y="0" font-size="67.5" text-anchor="end" transform="translate(270.3 1388.0) scale(1 1.15) rotate(-45)">1850</text>
<text x="0" y="0" font-size="67.5" text-anchor="end" transform="translate(389.8 1388.0) scale(1 1.15) rotate(-45)">1860</text>
<text x="0" y="0" font-size="67.5" text-anchor="end" transform="translate(510.7 1388.0) scale(1 1.15) rotate(-45)">1870</text>
<text x="0" y="0" font-size="67.5" text-anchor="end" transform="translate(628.7 1388.0) scale(1 1.15) rotate(-45)">1880</text>
<text x="0" y="0" font-size="67.5" text-anchor="end" transform="translate(751.0 1388.0) scale(1 1.15) rotate(-45)">1890</text>
<text x="0" y="0" font-size="67.5" text-anchor="end" transform="translate(869.0 1388.0) scale(1 1.15) rotate(-45)">1900</text>
<text x="0" y="0" font-size="67.5" text-anchor="end" transform="translate(985.6 1388.0) scale(1 1.15) rotate(-45)">1910</text>
<text x="0" y="0" font-size="67.5" text-anchor="end" transform="translate(1111.0 1388.0) scale(1 1.15) rotate(-45)">1920</text>
<text x="0" y="0" font-size="67.5" text-anchor="end" transform="translate(1230.5 1388.0) scale(1 1.15) rotate(-45)">1930</text>
<text x="0" y="0" font-size="67.5" text-anchor="end" transform="translate(1348.0 1388.0) scale(1 1.15) rotate(-45)">1940</text>
<text x="0" y="0" font-size="67.5" text-anchor="end" transform="translate(1469.0 1388.0) scale(1 1.15) rotate(-45)">1950</text>
<text x="0" y="0" font-size="67.5" text-anchor="end" transform="translate(1588.7 1388.0) scale(1 1.15) rotate(-45)">1960</text>
<text x="0" y="0" font-size="67.5" text-anchor="end" transform="translate(1703.8 1388.0) scale(1 1.15) rotate(-45)">1970</text>
<text x="0" y="0" font-size="67.5" text-anchor="end" transform="translate(1828.0 1388.0) scale(1 1.15) rotate(-45)">1980</text>
<text x="0" y="0" font-size="67.5" text-anchor="end" transform="translate(1943.4 1388.0) scale(1 1.15) rotate(-45)">1990</text>
<text x="0" y="0" font-size="67.5" text-anchor="end" transform="translate(2062.5 1388.0) scale(1 1.15) rotate(-45)">2000</text>
<text x="0" y="0" font-size="67.5" text-anchor="end" transform="translate(2181.0 1388.0) scale(1 1.15) rotate(-45)">2009</text>
<g transform="translate(310.00 1631.00) scale(0.87 1)"><text x="0" y="0" font-size="70" textLength="715.52" lengthAdjust="spacing">GISS annual anomalies</text></g>
<rect x="172.5" y="1613.8" width="8.5" height="6.5" fill="#E10034"/>
<rect x="188.8" y="1613.8" width="8.5" height="6.5" fill="#E10034"/>
<rect x="205.1" y="1613.8" width="8.5" height="6.5" fill="#E10034"/>
<rect x="221.4" y="1613.8" width="8.5" height="6.5" fill="#E10034"/>
<rect x="237.7" y="1613.8" width="8.5" height="6.5" fill="#E10034"/>
<rect x="254.0" y="1613.8" width="8.5" height="6.5" fill="#E10034"/>
<rect x="270.3" y="1613.8" width="8.5" height="6.5" fill="#E10034"/>
<g transform="translate(308.00 1736.00) scale(0.87 1)"><text x="0" y="0" font-size="70" textLength="1134.48" lengthAdjust="spacing">Hadley HadCRUT3 annual anomalies</text></g>
<rect x="172.5" y="1715.2" width="8.5" height="6.5" fill="#0E9B99"/>
<rect x="188.8" y="1715.2" width="8.5" height="6.5" fill="#0E9B99"/>
<rect x="205.1" y="1715.2" width="8.5" height="6.5" fill="#0E9B99"/>
<rect x="221.4" y="1715.2" width="8.5" height="6.5" fill="#0E9B99"/>
<rect x="237.7" y="1715.2" width="8.5" height="6.5" fill="#0E9B99"/>
<rect x="254.0" y="1715.2" width="8.5" height="6.5" fill="#0E9B99"/>
<rect x="270.3" y="1715.2" width="8.5" height="6.5" fill="#0E9B99"/>
<g transform="translate(308.00 1846.00) scale(0.87 1)"><text x="0" y="0" font-size="70" textLength="1198.85" lengthAdjust="spacing">NASA&#39;s GISS 10-year moving average</text></g>
<rect x="167" y="1829.0" width="115" height="8" fill="#E10034"/>
<g transform="translate(308.00 1948.00) scale(0.87 1)"><text x="0" y="0" font-size="70" textLength="1352.87" lengthAdjust="spacing">Hadley HadCRUT3 10-year moving average</text></g>
<rect x="167" y="1934.0" width="115" height="8" fill="#0E9B99"/>
</svg></body></html>
